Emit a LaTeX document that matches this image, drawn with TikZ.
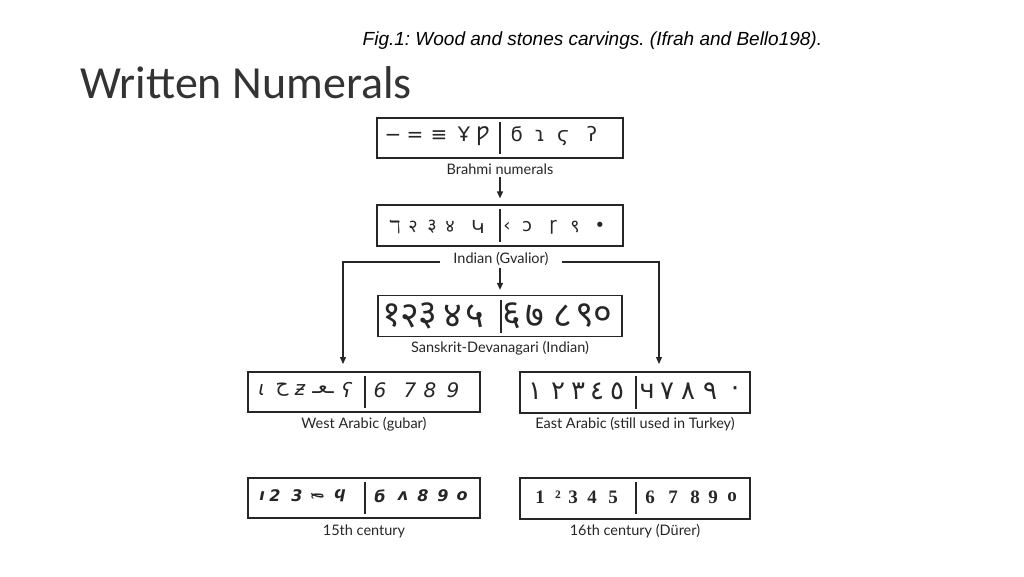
\documentclass[tikz,border=0pt]{standalone}
\usepackage{fontspec}
\setmainfont{Lato}
\newfontfamily\titlefont{Carlito}
\newfontfamily\capfont{Liberation Sans}
\newfontfamily\dvfont{DejaVu Sans}
\newfontfamily\devfont[Script=Devanagari]{Noto Sans}
\newfontfamily\arabfont[Script=Arabic]{DejaVu Sans}
\newfontfamily\boldserif{Liberation Serif}
\usetikzlibrary{arrows.meta}
\definecolor{ink}{HTML}{262626}
\newcommand\glyphrow[4]{%
  \foreach \g/\x [count=\i] in {#4} \node[#3] (#1\i) at (\x,#2) {\g};}
\newcommand\uc[1]{\char"#1\relax}
\frenchspacing
\begin{document}
\begin{tikzpicture}[x=1pt,y=-1pt,
  numbox/.style={draw=ink,line width=1.3pt,inner sep=0pt},
  lbl/.style={text=ink,font=\fontsize{14.5}{16}\selectfont,inner sep=1pt},
  arr/.style={draw=ink,line width=1.3pt,-{Triangle[length=7pt,width=6pt]}},
  bar/.style={draw=ink,line width=1.3pt},
  gl/.style={text=ink,inner sep=0pt},
  brg/.style={gl,text height=0.7em,text depth=0pt,font=\dvfont\fontsize{20}{20}\selectfont},
  gvg/.style={gl,font=\dvfont\fontsize{18}{18}\selectfont},
  sag/.style={gl,font=\devfont\bfseries\fontsize{36}{36}\selectfont},
  wag/.style={gl,font=\dvfont\itshape\fontsize{20}{20}\selectfont},
  eag/.style={gl,font=\arabfont\fontsize{26}{26}\selectfont},
  fcg/.style={gl,font=\dvfont\itshape\bfseries\fontsize{16}{16}\selectfont},
  scg/.style={gl,font=\boldserif\bfseries\fontsize{19}{19}\selectfont}]
\useasboundingbox (0,0) rectangle (1024,576);
\fill[white] (0,0) rectangle (1024,576);

% caption and title
\node[anchor=base west,inner sep=0pt,font=\capfont\itshape\fontsize{19}{19}\selectfont] (cap) at (362.5,45.7) {Fig.1: Wood and stones carvings. (Ifrah and Bello198).};
\node[anchor=base west,inner sep=0pt,font=\titlefont\fontsize{46}{46}\selectfont,text=black!80] (title) at (80,98) {Written Numerals};

% boxes
\node[numbox,minimum width=246pt,minimum height=40pt] (brahmi) at (500,138) {};
\node[numbox,minimum width=246pt,minimum height=41pt] (gval) at (500,225.5) {};
\node[numbox,minimum width=244pt,minimum height=41pt] (sans) at (500,316) {};
\node[numbox,minimum width=232pt,minimum height=40pt] (west) at (364,392) {};
\node[numbox,minimum width=230pt,minimum height=41pt] (east) at (635,392.5) {};
\node[numbox,minimum width=232pt,minimum height=40pt] (fif) at (364,498) {};
\node[numbox,minimum width=230pt,minimum height=41pt] (six) at (635,498.5) {};

% dividers
\draw[bar] (500,122) -- (500,154);
\draw[bar] (500,209) -- (500,242);
\draw[bar] (501,300) -- (501,333);
\draw[bar] (365,376) -- (365,408);
\draw[bar] (636,376) -- (636,409);
\draw[bar] (365,482) -- (365,514);
\draw[bar] (636,482) -- (636,514);

% labels
\node[lbl] (brahmiL) at (500,169) {Brahmi numerals};
\node[lbl] (gvalL) at (501,258.5) {Indian (Gvalior)};
\node[lbl] (sansL) at (500,348.5) {Sanskrit-Devanagari (Indian)};
\node[lbl] (westL) at (364,424) {West Arabic (gubar)};
\node[lbl] (eastL) at (635,424) {East Arabic (still used in Turkey)};
\node[lbl] (fifL) at (364,531) {15th century};
\node[lbl] (sixL) at (635,531) {16th century (Dürer)};

% connectors
\coordinate (a1) at (500,177);
\draw[arr] (a1) -- ([yshift=6pt]gval.north);
\coordinate (a2) at (500,268);
\draw[arr] (a2) -- ([yshift=5pt]sans.north);
\coordinate (lstart) at (440,262);
\coordinate (rstart) at (562,262);
\coordinate (lend) at (343,364);
\coordinate (rend) at (659,364);
\draw[arr] (lstart) -| (lend);
\draw[arr] (rstart) -| (rend);

% glyphs
\glyphrow{b}{138}{brg}{−/393, =/415, ≡/439, Ұ/464, Ƿ/483, ϭ/517, ɿ/540, ϛ/563, ʔ/592}
\glyphrow{g}{227}{gvg}{ℸ/395, {\devfont २}/413, {\devfont ३}/432, {\devfont ४}/450, Կ/478, ‹/507, ɔ/527, ɼ/553, {\devfont ९}/575, •/600}
\glyphrow{s}{316}{sag}{१/392, २/410, ३/428, ४/453, ५/475, ६/512, ७/535, ८/563, ९/585, ०/603}
\glyphrow{w}{390}{wag}{ɩ/262, {\arabfont\upshape\uc{062D}}/282, ƶ/300, {\arabfont\upshape\uc{0640}\uc{0639}\uc{0640}}/323, ʕ/347, 6/380, 7/410, 8/430, 9/453}
\glyphrow{e}{391}{eag}{{\uc{0661}}/535, {\uc{0662}}/558, {\uc{0663}}/578, {\uc{0664}}/597, {\uc{0665}}/617, {\dvfont ч}/647, {\uc{0667}}/667, {\uc{0668}}/688, {\uc{0669}}/710, {\uc{0660}}/735}
\glyphrow{f}{496}{fcg}{ı/262, 2/275, 3/297, {\rotatebox{-80}{ℓ}}/318, ϥ/340, б/380, ʌ/403, 8/423, 9/443, o/462}
\glyphrow{x}{497}{scg}{1/540, ²/558, 3/573, 4/592, 5/613, 6/650, 7/673, 8/695, 9/713, o/732}
\end{tikzpicture}
\end{document}
